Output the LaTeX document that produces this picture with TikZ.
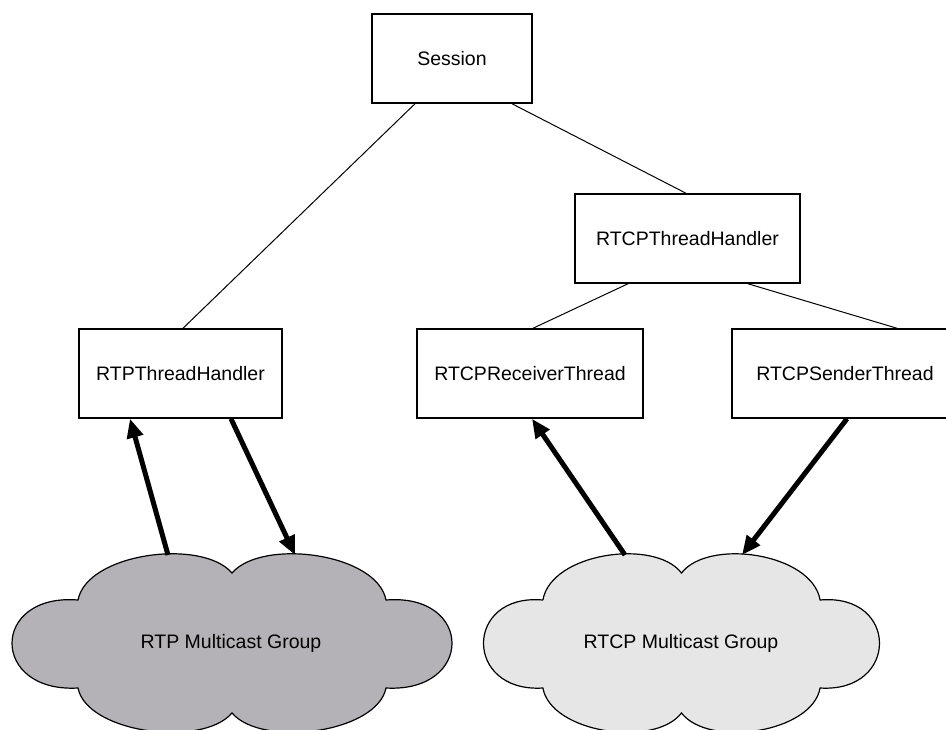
\documentclass[tikz,border=0pt]{standalone}
\usepackage{fontspec}
\setmainfont{Liberation Sans}
\usetikzlibrary{arrows.meta}
\definecolor{rtpgray}{RGB}{180,178,182}
\definecolor{rtcpgray}{RGB}{230,230,230}
\tikzset{
  box/.style={draw=black, line width=1.5pt, fill=white, inner sep=0pt, minimum height=89pt,
    font=\fontsize{19.5}{23}\selectfont},
  link/.style={draw=black, line width=1pt},
  flow/.style={draw=black, line width=5pt, -{Triangle[length=19pt,width=16pt]}},
  cloudline/.style={draw=black, line width=1.2pt},
  cloudlabel/.style={font=\fontsize{19.5}{23}\selectfont, inner sep=0pt}
}
\newcommand\mycloud{(-154,-43) .. controls (-145,-90) and (-30,-105) .. (0,-70)
  .. controls (30,-105) and (145,-90) .. (154,-43)
  .. controls (242,-50) and (242,50) .. (154,45)
  .. controls (145,90) and (30,105) .. (0,70)
  .. controls (-30,105) and (-145,90) .. (-154,45)
  .. controls (-242,50) and (-242,-50) .. cycle}
\begin{document}
\begin{tikzpicture}[x=1pt,y=-1pt]
\useasboundingbox (0,0) rectangle (946,729);
% clouds
\begin{scope}[shift={(232,643)}]
  \path[cloudline, fill=rtpgray] \mycloud;
\end{scope}
\begin{scope}[shift={(681.5,643)}, xscale=0.9]
  \path[cloudline, fill=rtcpgray] \mycloud;
\end{scope}
\node[cloudlabel] (rtpcloud) at (231,643) {RTP Multicast Group};
\node[cloudlabel] (rtcpcloud) at (681,643) {RTCP Multicast Group};
\coordinate (rtpcin) at (168,555);
\coordinate (rtpcout) at (295,555);
\coordinate (rtcpcin) at (625,555);
\coordinate (rtcpcout) at (742,555);
% boxes
\node[box, minimum width=160pt] (session) at (452,58.5) {Session};
\node[box, minimum width=225pt] (rtcpth) at (687.5,238.5) {RTCPThreadHandler};
\node[box, minimum width=203pt] (rtpth) at (180.5,373.5) {RTPThreadHandler};
\node[box, minimum width=226pt] (recv) at (530,373.5) {RTCPReceiverThread};
\node[box, minimum width=226pt] (send) at (845,373.5) {RTCPSenderThread};
% links
\draw[link] ([xshift=-37pt]session.south) -- ([xshift=2.5pt]rtpth.north);
\draw[link] ([xshift=60pt]session.south) -- ([xshift=-1.5pt]rtcpth.north);
\draw[link] ([xshift=-59.5pt]rtcpth.south) -- ([xshift=3pt]recv.north);
\draw[link] ([xshift=60.5pt]rtcpth.south) -- ([xshift=52pt]send.north);
% flows
\draw[flow] (rtpcin) -- ([xshift=-50.5pt]rtpth.south);
\draw[flow] ([xshift=50.5pt]rtpth.south) -- (rtpcout);
\draw[flow] (rtcpcin) -- ([xshift=2pt]recv.south);
\draw[flow] ([xshift=2pt]send.south) -- (rtcpcout);
\end{tikzpicture}
\end{document}
